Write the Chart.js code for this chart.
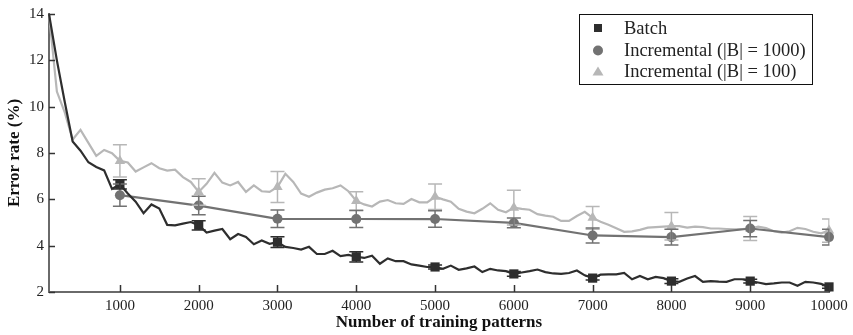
<!DOCTYPE html>
<html><head><meta charset="utf-8">
<script src="https://cdn.jsdelivr.net/npm/chart.js@4/dist/chart.umd.min.js"></script>
<style>html,body{margin:0;padding:0;background:#fff;}#wrap{width:853px;height:335px;position:relative;}</style>
</head><body><div id="wrap"><canvas id="c" width="853" height="335"></canvas></div>
<script>
const patterns = [100,200,300,400,500,600,700,800,900,1000,
1100,1200,1300,1400,1500,1600,1700,1800,1900,2000,
2100,2200,2300,2400,2500,2600,2700,2800,2900,3000,
3100,3200,3300,3400,3500,3600,3700,3800,3900,4000,
4100,4200,4300,4400,4500,4600,4700,4800,4900,5000,
5100,5200,5300,5400,5500,5600,5700,5800,5900,6000,
6100,6200,6300,6400,6500,6600,6700,6800,6900,7000,
7100,7200,7300,7400,7500,7600,7700,7800,7900,8000,
8100,8200,8300,8400,8500,8600,8700,8800,8900,9000,
9100,9200,9300,9400,9500,9600,9700,9800,9900,10000];
const batchRate = [14.0,12.0,10.2,8.5,8.1,7.6,7.4,7.25,6.45,6.65,
6.25,5.9,5.4,5.78,5.6,4.9,4.88,4.95,5.02,4.88,
4.57,4.65,4.72,4.28,4.5,4.38,4.06,4.22,4.08,4.15,
3.95,3.9,3.83,3.95,3.64,3.64,3.78,3.55,3.6,3.52,
3.47,3.57,3.22,3.45,3.33,3.33,3.19,3.14,3.08,3.08,
3.0,3.14,2.96,3.02,3.1,2.86,3.0,2.93,2.9,2.78,
2.84,2.9,2.97,2.86,2.8,2.78,2.82,2.93,2.72,2.6,
2.75,2.76,2.76,2.82,2.55,2.69,2.55,2.65,2.6,2.47,
2.44,2.58,2.69,2.44,2.47,2.45,2.44,2.55,2.55,2.47,
2.41,2.34,2.37,2.41,2.41,2.27,2.44,2.41,2.35,2.22];
const inc100Rate = [14.0,10.65,9.75,8.58,9.0,8.44,7.88,8.13,7.99,7.66,
7.59,7.2,7.38,7.56,7.34,7.24,7.28,6.96,6.75,6.32,
6.67,7.14,6.72,6.6,6.75,6.32,6.6,6.35,6.32,6.53,
7.1,6.75,6.25,6.11,6.29,6.42,6.48,6.6,6.35,5.93,
5.78,5.69,5.9,5.97,5.83,5.8,6.01,5.87,5.87,6.11,
6.0,5.9,5.59,5.47,5.4,5.59,5.83,5.55,5.44,5.64,
5.59,5.55,5.36,5.3,5.25,5.07,5.07,5.28,5.46,5.2,
5.03,4.9,4.75,4.6,4.62,4.68,4.78,4.8,4.82,4.84,
4.84,4.78,4.82,4.8,4.74,4.74,4.72,4.7,4.72,4.74,
4.82,4.76,4.62,4.56,4.62,4.77,4.72,4.6,4.53,4.65];
const markerPatterns = [1000,2000,3000,4000,5000,6000,7000,8000,9000,10000];
const inc1000Rate = [6.18,5.73,5.16,5.15,5.15,4.98,4.44,4.37,4.74,4.37];
const batchErr = [0.2,0.2,0.23,0.22,0.09,0.1,0.08,0.1,0.08,0.06];
const inc1000Err = [0.48,0.4,0.38,0.37,0.36,0.21,0.32,0.34,0.35,0.34];
const inc100Err = [0.7,0.57,0.67,0.4,0.55,0.75,0.49,0.59,0.52,0.5];
const yTicks = [2,4,6,8,10,12,14];
const xTicks = [1000,2000,3000,4000,5000,6000,7000,8000,9000,10000];
const seriesNames = ['Batch','Incremental (|B| = 1000)','Incremental (|B| = 100)'];
const xTitle = 'Number of training patterns';
const yTitle = 'Error rate (%)';

const colBatch = '#2e2e2e', colMid = '#727272', colLight = '#b7b7b7';
const serif = '"Liberation Serif", "DejaVu Serif", serif';

function pts(xs, ys){ return xs.map((x,i)=>({x:x, y:ys[i]})); }
const markR = c => (c.raw && c.raw.x % 1000 === 0) ? 6 : 0;

const errSets = [
  {vals: markerPatterns.map(m => inc100Rate[patterns.indexOf(m)]), err: inc100Err, color: colLight},
  {vals: inc1000Rate, err: inc1000Err, color: colMid},
  {vals: markerPatterns.map(m => batchRate[patterns.indexOf(m)]), err: batchErr, color: colBatch}
];

const deco = {
  id: 'deco',
  afterDatasetsDraw(chart){
    const ctx = chart.ctx, xs = chart.scales.x, ys = chart.scales.y, a = chart.chartArea;
    ctx.save();
    ctx.beginPath(); ctx.rect(a.left, a.top - 5, a.right - a.left + 0.5, a.bottom - a.top + 10); ctx.clip();
    errSets.forEach(s => {
      ctx.strokeStyle = s.color; ctx.lineWidth = 1.5;
      markerPatterns.forEach((m,i) => {
        const px = xs.getPixelForValue(m);
        const y1 = ys.getPixelForValue(s.vals[i] + s.err[i]);
        const y2 = ys.getPixelForValue(s.vals[i] - s.err[i]);
        ctx.beginPath();
        ctx.moveTo(px, y1); ctx.lineTo(px, y2);
        ctx.moveTo(px - 7, y1); ctx.lineTo(px + 7, y1);
        ctx.moveTo(px - 7, y2); ctx.lineTo(px + 7, y2);
        ctx.stroke();
      });
    });
    ctx.restore();
  },
  afterDraw(chart){
    const ctx = chart.ctx, xs = chart.scales.x, ys = chart.scales.y, a = chart.chartArea;
    ctx.save();
    ctx.strokeStyle = '#333'; ctx.lineWidth = 1.5;
    yTicks.forEach(v => { const py = Math.round(ys.getPixelForValue(v)) + 0.5; ctx.beginPath(); ctx.moveTo(a.left, py); ctx.lineTo(a.left + 6, py); ctx.stroke(); });
    xTicks.forEach(v => { const px = Math.round(xs.getPixelForValue(v)) + 0.5; ctx.beginPath(); ctx.moveTo(px, a.bottom); ctx.lineTo(px, a.bottom - 7); ctx.stroke(); });
    // legend
    const lx = 579.5, ly = 14.5, lw = 233, lh = 70;
    ctx.fillStyle = '#fff'; ctx.fillRect(lx, ly, lw, lh);
    ctx.strokeStyle = '#111'; ctx.lineWidth = 1; ctx.strokeRect(lx, ly, lw, lh);
    const rows = [28, 50.5, 71.5], cols = [colBatch, colMid, colLight];
    ctx.font = '18.5px ' + serif; ctx.textBaseline = 'middle'; ctx.textAlign = 'left';
    rows.forEach((ry, i) => {
      ctx.fillStyle = cols[i];
      const mx = 598;
      if (i === 0) ctx.fillRect(mx - 4, ry - 4, 8, 8);
      else if (i === 1) { ctx.beginPath(); ctx.arc(mx, ry, 5, 0, Math.PI*2); ctx.fill(); }
      else { ctx.beginPath(); ctx.moveTo(mx, ry - 5); ctx.lineTo(mx + 5.5, ry + 4); ctx.lineTo(mx - 5.5, ry + 4); ctx.closePath(); ctx.fill(); }
      ctx.fillStyle = '#222';
      ctx.fillText(seriesNames[i], 624, ry + 1);
    });
    ctx.restore();
  }
};

new Chart(document.getElementById('c'), {
  type: 'line',
  data: {
    datasets: [
      {label: seriesNames[0], data: pts(patterns, batchRate), borderColor: colBatch, backgroundColor: colBatch,
       borderWidth: 2.2, pointStyle: 'rect', pointRadius: c => markR(c) ? 6.5 : 0, pointBorderWidth: 0, tension: 0, clip: false},
      {label: seriesNames[1], data: pts(markerPatterns, inc1000Rate), borderColor: colMid, backgroundColor: colMid,
       borderWidth: 2.2, pointStyle: 'circle', pointRadius: 5, pointBorderWidth: 0, tension: 0, clip: false},
      {label: seriesNames[2], data: pts(patterns, inc100Rate), borderColor: colLight, backgroundColor: colLight,
       borderWidth: 2.2, pointStyle: 'triangle', pointRadius: c => markR(c), pointBorderWidth: 0, tension: 0, clip: false}
    ]
  },
  options: {
    responsive: false, animation: false, devicePixelRatio: 1,
    layout: {padding: {top: 9, right: 24, left: 0, bottom: 0}},
    plugins: {legend: {display: false}, tooltip: {enabled: false}},
    elements: {point: {hoverRadius: 0}},
    scales: {
      x: {
        type: 'linear', min: 100, max: 10000,
        afterBuildTicks: s => { s.ticks = xTicks.map(v => ({value: v})); },
        afterFit: s => { s.height = 43; },
        grid: {display: false, drawTicks: false},
        border: {display: true, color: '#6a6a6a', width: 2},
        ticks: {color: '#222', font: {family: serif, size: 15}, padding: 5, maxRotation: 0, autoSkip: false, callback: v => String(v)},
        title: {display: true, text: xTitle, color: '#111', font: {family: serif, size: 17, weight: 'bold'}, padding: {top: 0, bottom: 2}}
      },
      y: {
        type: 'linear', min: 2, max: 14,
        afterBuildTicks: s => { s.ticks = yTicks.map(v => ({value: v})); },
        afterFit: s => { s.width = 49; },
        grid: {display: false, drawTicks: false},
        border: {display: true, color: '#6a6a6a', width: 2},
        ticks: {color: '#222', font: {family: serif, size: 15}, padding: 5, callback: v => String(v)},
        title: {display: true, text: yTitle, color: '#111', font: {family: serif, size: 17, weight: 'bold'}, padding: {top: 4, bottom: 0}}
      }
    }
  },
  plugins: [deco]
});
</script></body></html>
